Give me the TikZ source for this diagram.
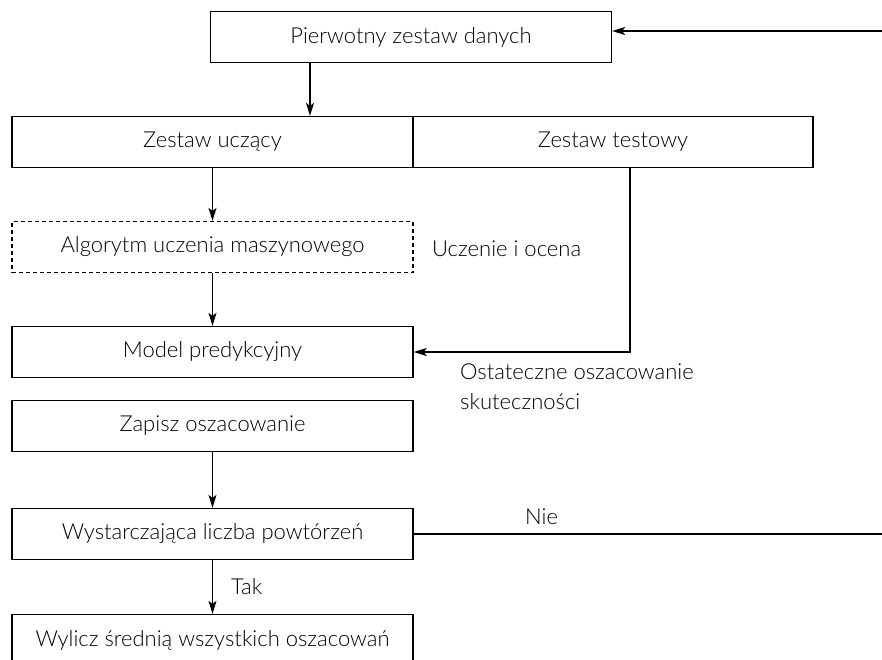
\documentclass[tikz,border=0pt]{standalone}
\usepackage{fontspec}
\setmainfont{Lato}[UprightFont=* Light]
\usetikzlibrary{arrows.meta}

\tikzset{
  krok/.style={draw, line width=1.3pt, minimum width=401pt, minimum height=51pt, inner sep=0pt},
  krokkres/.style={krok, dash pattern=on 4pt off 3pt},
  strz/.style={line width=1.2pt, -{Stealth[length=13pt, width=8pt, inset=3pt]}},
  linia/.style={line width=1.2pt},
  opis/.style={anchor=west, inner sep=0pt}
}

\begin{document}
\begin{tikzpicture}[x=1pt, y=-1pt, font=\fontsize{22}{26}\selectfont]

  \useasboundingbox (0,0) rectangle (882,659);
  \clip (0,0) rectangle (882,659);

  % bloki
  \node[krok] (dane)    at (411,37)   {Pierwotny zestaw danych};
  \node[krok] (uczacy)  at (212.5,142) {Zestaw uczący};
  \node[krok, minimum width=400pt] (testowy) at (613,142) {Zestaw testowy};
  \node[krokkres] (algorytm) at (212.5,247) {Algorytm uczenia maszynowego};
  \node[krok] (model)   at (212.5,352) {Model predykcyjny};
  \node[krok] (zapisz)  at (212.5,426) {Zapisz oszacowanie};
  \node[krok] (powt)    at (212.5,534) {Wystarczająca liczba powtórzeń};
  \node[krok] (srednia) at (212.5,640) {Wylicz średnią wszystkich oszacowań};

  % wolne konce
  \coordinate (powrot) at (882,31);
  \coordinate (nie)    at (882,534);

  % strzalki
  \draw[strz] (powrot) -- (dane.east |- powrot);
  \draw[strz] ([xshift=-101pt]dane.south) -- ([xshift=-101pt]dane.south |- uczacy.north);
  \draw[strz] (uczacy) -- (algorytm);
  \draw[strz] (algorytm) -- (model);
  \draw[strz] ([xshift=17pt]testowy.south) |- (model.east);
  \draw[strz] (zapisz) -- (powt);
  \draw[strz] (powt) -- node[opis, xshift=18pt]{Tak} (srednia);
  \draw[linia] (powt.east) -- (nie);

  % opisy
  \node[opis] (uczenie) at (432,249) {Uczenie i ocena};
  \node[opis, align=left] (ocena) at (460,387) {Ostateczne oszacowanie\\[4pt]skuteczności};
  \node[opis] (etnie) at (525,517) {Nie};

\end{tikzpicture}
\end{document}
